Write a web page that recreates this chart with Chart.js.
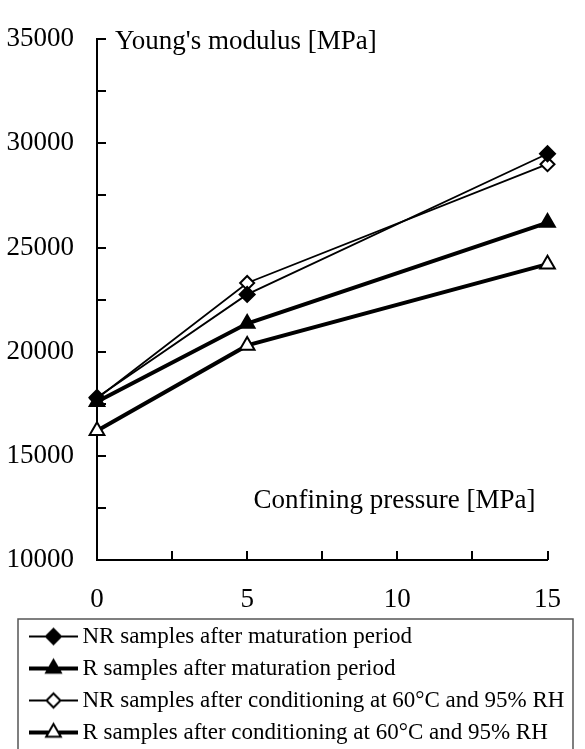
<!DOCTYPE html>
<html>
<head>
<meta charset="utf-8">
<script src="https://cdn.jsdelivr.net/npm/chart.js@4/dist/chart.umd.min.js"></script>
<style>
  html, body { margin: 0; padding: 0; background: #fff; }
</style>
</head>
<body>
<canvas id="modulusChart" width="585" height="749"></canvas>
<script>
// confining pressure [MPa]
const pressure = [0, 5, 15];
// Young's modulus [MPa]
const nrMaturation = [17800, 22750, 29500];
const rMaturation = [17600, 21350, 26200];
const nrConditioned = [17750, 23300, 29000];
const rConditioned = [16200, 20300, 24200];

const seriesLabels = [
    'NR samples after maturation period',
    'R samples after maturation period',
    'NR samples after conditioning at 60°C and 95% RH',
    'R samples after conditioning at 60°C and 95% RH',
];
const yTickLabels = [10000, 15000, 20000, 25000, 30000, 35000];
const xTickLabels = [0, 5, 10, 15];

const SERIF = '"Liberation Serif", "Times New Roman", serif';

function pts(values) {
    return pressure.map((p, i) => ({ x: p, y: values[i] }));
}

// line + marker icon for the legend (left part of the canvas is left empty)
function legendIcon(style, filled, lineWidth, radius) {
    const c = document.createElement('canvas');
    c.width = 76; c.height = 24;
    const g = c.getContext('2d');
    g.strokeStyle = '#000';
    g.lineWidth = lineWidth;
    g.beginPath(); g.moveTo(27, 12); g.lineTo(76, 12); g.stroke();
    g.fillStyle = filled ? '#000' : '#fff';
    g.lineWidth = 2;
    Chart.helpers.drawPoint(g, { pointStyle: style, radius: radius, rotation: 0, borderWidth: 2 }, 51.5, 12);
    return c;
}

const series = [
    { data: nrMaturation,  style: 'rectRot',  filled: true,  width: 1.8, radius: 7.5 },
    { data: rMaturation,   style: 'triangle', filled: true,  width: 4,   radius: 8.5 },
    { data: nrConditioned, style: 'rectRot',  filled: false, width: 1.8, radius: 7 },
    { data: rConditioned,  style: 'triangle', filled: false, width: 4,   radius: 8.5 },
];
const icons = series.map(s => legendIcon(s.style, s.filled, s.width, s.radius));

const decorations = {
    id: 'decorations',
    beforeDatasetsDraw(chart) {
        const { ctx, chartArea: a, scales: { x, y } } = chart;
        ctx.save();
        ctx.strokeStyle = '#000';
        ctx.lineWidth = 2;
        ctx.beginPath();
        y.ticks.forEach(t => {
            const py = Math.round(y.getPixelForValue(t.value));
            ctx.moveTo(a.left, py); ctx.lineTo(a.left + 9, py);
        });
        x.ticks.forEach(t => {
            const px = Math.round(x.getPixelForValue(t.value));
            ctx.moveTo(px, a.bottom); ctx.lineTo(px, a.bottom - 9);
        });
        ctx.stroke();

        ctx.fillStyle = '#000';
        ctx.font = '27px ' + SERIF;
        ctx.textBaseline = 'alphabetic';
        ctx.textAlign = 'left';
        ctx.fillText("Young's modulus [MPa]", a.left + 18, a.top + 10);
        ctx.textAlign = 'right';
        ctx.fillText('Confining pressure [MPa]', a.right - 12, a.bottom - 52);
        ctx.restore();
    },
    afterDraw(chart) {
        const { ctx, legend } = chart;
        ctx.save();
        ctx.strokeStyle = '#555';
        ctx.lineWidth = 1.5;
        ctx.strokeRect(legend.left + 18, legend.top + 3, legend.width - 17, legend.height + 20);
        ctx.restore();
    },
};

new Chart(document.getElementById('modulusChart'), {
    type: 'line',
    data: {
        datasets: series.map((s, i) => ({
            label: seriesLabels[i],
            data: pts(s.data),
            borderColor: '#000',
            borderWidth: s.width,
            pointStyle: s.style,
            pointRadius: s.radius,
            pointBorderWidth: 2,
            pointBorderColor: '#000',
            pointBackgroundColor: s.filled ? '#000' : '#fff',
            tension: 0,
            clip: false,
        })),
    },
    plugins: [decorations],
    options: {
        responsive: false,
        animation: false,
        devicePixelRatio: 1,
        layout: { padding: { left: 0, right: 13, top: 23, bottom: 0 } },
        plugins: {
            tooltip: { enabled: false },
            legend: {
                position: 'bottom',
                align: 'start',
                maxHeight: 133,
                labels: {
                    usePointStyle: true,
                    pointStyleWidth: 62,
                    padding: 9,
                    color: '#000',
                    font: { family: SERIF, size: 23 },
                    generateLabels(chart) {
                        const items = Chart.defaults.plugins.legend.labels.generateLabels(chart);
                        return items.map((it, i) => Object.assign(it, { pointStyle: icons[i] }));
                    },
                },
            },
        },
        scales: {
            x: {
                type: 'linear',
                min: 0,
                max: 15,
                grid: { display: false, drawTicks: false },
                border: { color: '#000', width: 2 },
                ticks: {
                    stepSize: 2.5,
                    padding: 24,
                    color: '#000',
                    font: { family: SERIF, size: 27 },
                    callback: v => (xTickLabels.includes(v) ? v : ''),
                },
                afterFit(scale) { scale.height = 56; },
            },
            y: {
                min: 10000,
                max: 35000,
                grid: { display: false, drawTicks: false },
                border: { color: '#000', width: 2 },
                ticks: {
                    stepSize: 2500,
                    padding: 23,
                    color: '#000',
                    font: { family: SERIF, size: 27 },
                    callback: v => (yTickLabels.includes(v) ? v : ''),
                },
                afterFit(scale) { scale.width = 97; },
            },
        },
    },
});
</script>
</body>
</html>
